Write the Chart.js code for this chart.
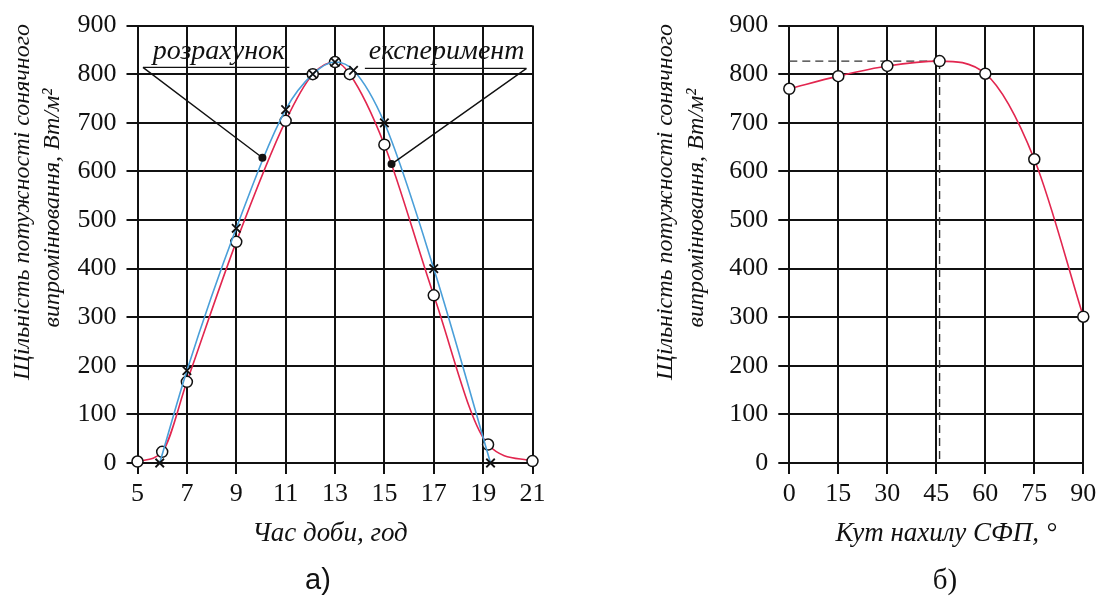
<!DOCTYPE html>
<html>
<head>
<meta charset="utf-8">
<script src="https://cdn.jsdelivr.net/npm/chart.js@4/dist/chart.umd.min.js"></script>
<style>
  body { margin: 0; background: #fff; width: 1104px; height: 597px; position: relative; overflow: hidden; }
  canvas { position: absolute; top: 0; }
  #chartA { left: 0; }
  #chartB { left: 560px; }
</style>
</head>
<body>
<canvas id="chartA" width="560" height="597"></canvas>
<canvas id="chartB" width="544" height="597"></canvas>
<script>
// а) розрахунок (синя крива, хрестики)
const calcHours = [5.9, 7, 9, 11, 12.1, 13, 13.75, 15, 17, 19.3];
const calcPower = [0, 190, 483, 727, 800, 825, 808, 700, 400, 0];
// а) експеримент (червона крива, кружки)
const expHours = [5, 6, 7, 9, 11, 12.1, 13, 13.6, 15, 17, 19.2, 21];
const expPower = [3, 23, 167, 455, 704, 800, 825, 800, 655, 345, 38, 4];
// б) залежність від кута нахилу
const tiltAngles = [0, 15, 30, 46, 60, 75, 90];
const tiltPower = [770, 796, 817, 827, 801, 625, 301];

const yTitle = ["Щільність потужності сонячного", "випромінювання, Вт/м²"];

const RED = "#e2264f";
const BLUE = "#4a9fd9";
const INK = "#111";
const serif = '"Liberation Serif", "Times New Roman", serif';

function pts(xs, ys) {
  return xs.map((x, i) => ({ x: x, y: ys[i] }));
}

// axis titles and captions, drawn as text
const textsPlugin = {
  id: "texts",
  afterDraw(chart, args, opts) {
    const ctx = chart.ctx;
    ctx.save();
    ctx.fillStyle = INK;
    ctx.textAlign = "center";
    ctx.textBaseline = "middle";
    ctx.font = "italic 24px " + serif;
    opts.yLines.forEach(l => {
      ctx.save();
      ctx.translate(l.x, l.y);
      ctx.rotate(-Math.PI / 2);
      ctx.fillText(l.text, 0, 0);
      ctx.restore();
    });
    ctx.font = "italic 27px " + serif;
    ctx.fillText(opts.xTitle.text, opts.xTitle.x, opts.xTitle.y);
    ctx.font = opts.caption.font;
    ctx.fillText(opts.caption.text, opts.caption.x, opts.caption.y);
    ctx.restore();
  }
};

// labels "розрахунок" / "експеримент" with leader lines
const notesPlugin = {
  id: "notes",
  afterDatasetsDraw(chart, args, opts) {
    const ctx = chart.ctx, sx = chart.scales.x, sy = chart.scales.y;
    ctx.save();
    ctx.strokeStyle = INK;
    ctx.fillStyle = INK;
    ctx.lineWidth = 1.4;
    opts.items.forEach(n => {
      ctx.font = "italic 28px " + serif;
      ctx.textAlign = "center";
      ctx.textBaseline = "alphabetic";
      ctx.fillText(n.text, sx.getPixelForValue(n.tx), sy.getPixelForValue(n.ty));
      ctx.beginPath();
      ctx.moveTo(sx.getPixelForValue(n.under[0]), sy.getPixelForValue(n.underY));
      ctx.lineTo(sx.getPixelForValue(n.under[1]), sy.getPixelForValue(n.underY));
      ctx.moveTo(sx.getPixelForValue(n.from), sy.getPixelForValue(n.underY));
      ctx.lineTo(sx.getPixelForValue(n.dot[0]), sy.getPixelForValue(n.dot[1]));
      ctx.stroke();
      ctx.beginPath();
      ctx.arc(sx.getPixelForValue(n.dot[0]), sy.getPixelForValue(n.dot[1]), 4, 0, Math.PI * 2);
      ctx.fill();
    });
    ctx.restore();
  }
};

// dashed guide to the maximum
const peakPlugin = {
  id: "peak",
  beforeDatasetsDraw(chart) {
    const ctx = chart.ctx, sx = chart.scales.x, sy = chart.scales.y;
    const i = tiltPower.indexOf(Math.max(...tiltPower));
    const px = sx.getPixelForValue(tiltAngles[i]);
    const py = sy.getPixelForValue(tiltPower[i]);
    ctx.save();
    ctx.strokeStyle = "#333";
    ctx.lineWidth = 1.4;
    ctx.setLineDash([8, 5]);
    ctx.beginPath();
    ctx.moveTo(sx.getPixelForValue(tiltAngles[0]), py);
    ctx.lineTo(px, py);
    ctx.moveTo(px, py);
    ctx.lineTo(px, sy.getPixelForValue(0));
    ctx.stroke();
    ctx.restore();
  }
};

function axes(xMin, xMax, xStep, yWidth) {
  const grid = { color: INK, lineWidth: 2, tickLength: 11 };
  const border = { color: INK, width: 2 };
  const tickFont = { family: serif, size: 26 };
  return {
    x: {
      type: "linear", min: xMin, max: xMax,
      ticks: { stepSize: xStep, font: tickFont, color: INK, padding: 5, maxRotation: 0, autoSkip: false },
      grid: grid, border: border,
      afterFit(s) { s.height = 134; }
    },
    y: {
      min: 0, max: 900,
      ticks: { stepSize: 100, font: tickFont, color: INK, padding: 10 },
      grid: grid, border: border,
      afterFit(s) { s.width = yWidth; }
    }
  };
}

new Chart(document.getElementById("chartA"), {
  type: "line",
  data: {
    datasets: [
      {
        label: "розрахунок",
        data: pts(calcHours, calcPower),
        borderColor: BLUE, borderWidth: 1.6,
        cubicInterpolationMode: "monotone",
        pointStyle: "crossRot", pointRadius: 6,
        pointBorderColor: INK, pointBorderWidth: 1.8, pointBackgroundColor: INK,
        clip: false
      },
      {
        label: "експеримент",
        data: pts(expHours, expPower),
        borderColor: RED, borderWidth: 1.6,
        cubicInterpolationMode: "monotone",
        pointStyle: "circle", pointRadius: 5.5,
        pointBorderColor: INK, pointBorderWidth: 1.5, pointBackgroundColor: "#fff",
        clip: false
      }
    ]
  },
  options: {
    responsive: false,
    animation: false,
    layout: { padding: { left: 0, right: 27.5, top: 21, bottom: 0 } },
    scales: axes(5, 21, 2, 137.5),
    plugins: {
      legend: { display: false },
      tooltip: { enabled: false },
      texts: {
        yLines: [
          { text: yTitle[0], x: 22.5, y: 202 },
          { text: yTitle[1], x: 53, y: 208 }
        ],
        xTitle: { text: "Час доби, год", x: 330, y: 534 },
        caption: { text: "а)", x: 318, y: 581, font: '29px "Liberation Sans", Arial, sans-serif' }
      },
      notes: {
        items: [
          { text: "розрахунок", tx: 8.3, ty: 832, under: [5.22, 11.15], underY: 814, from: 5.22, dot: [10.06, 628] },
          { text: "експеримент", tx: 17.52, ty: 832, under: [14.21, 20.76], underY: 812, from: 20.76, dot: [15.29, 615] }
        ]
      }
    }
  },
  plugins: [textsPlugin, notesPlugin]
});

new Chart(document.getElementById("chartB"), {
  type: "line",
  data: {
    datasets: [
      {
        label: "Щільність потужності",
        data: pts(tiltAngles, tiltPower),
        borderColor: RED, borderWidth: 1.6,
        cubicInterpolationMode: "monotone",
        pointStyle: "circle", pointRadius: 5.5,
        pointBorderColor: INK, pointBorderWidth: 1.5, pointBackgroundColor: "#fff",
        clip: false
      }
    ]
  },
  options: {
    responsive: false,
    animation: false,
    layout: { padding: { left: 0, right: 20.7, top: 21, bottom: 0 } },
    scales: axes(0, 90, 15, 229.3),
    plugins: {
      legend: { display: false },
      tooltip: { enabled: false },
      texts: {
        yLines: [
          { text: yTitle[0], x: 106, y: 202 },
          { text: yTitle[1], x: 137, y: 208 }
        ],
        xTitle: { text: "Кут нахилу СФП, °", x: 386, y: 534 },
        caption: { text: "б)", x: 385, y: 581, font: '29px ' + serif }
      }
    }
  },
  plugins: [textsPlugin, peakPlugin]
});
</script>
</body>
</html>
